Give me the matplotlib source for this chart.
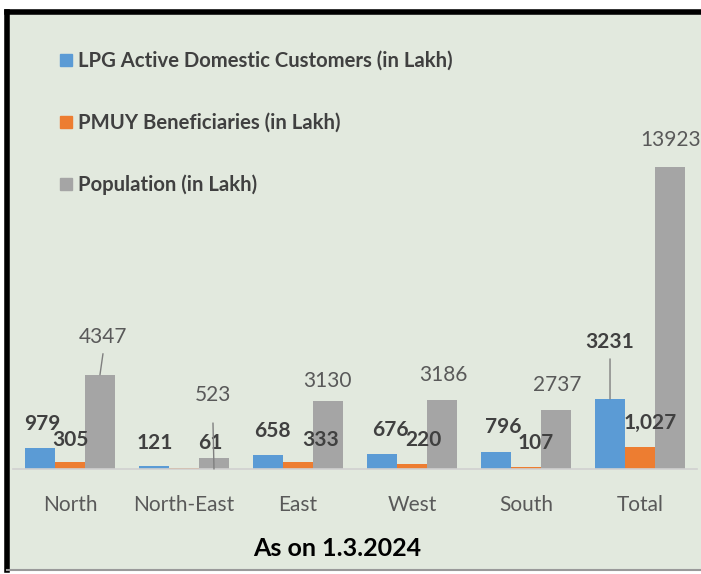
import matplotlib.pyplot as plt
from matplotlib.lines import Line2D
import numpy as np

regions = ["North", "North-East", "East", "West", "South", "Total"]
lpg_customers = [979, 121, 658, 676, 796, 3231]
pmuy_beneficiaries = [305, 61, 333, 220, 107, 1027]
population = [4347, 523, 3130, 3186, 2737, 13923]

lpg_text = ["979", "121", "658", "676", "796", "3231"]
pmuy_text = ["305", "61", "333", "220", "107", "1,027"]
pop_text = ["4347", "523", "3130", "3186", "2737", "13923"]

series_names = [
    "LPG Active Domestic Customers (in Lakh)",
    "PMUY Beneficiaries (in Lakh)",
    "Population (in Lakh)",
]
colors = ["#5b9bd5", "#ed7d31", "#a5a5a5"]

# label offsets from bar top (pixels, dx right / dy up)
lpg_off = [(2, 24), (1, 23), (4, 24), (8, 24), (7, 25), (0, 57)]
pmuy_off = [(0, 22), (26, 25), (23, 22), (11, 24), (10, 24), (10, 24)]
pop_off = [(3, 38), (-1, 63), (-1, 20), (1, 25), (1, 25), (1, 27)]

plt.rcParams["font.family"] = ["Lato", "DejaVu Sans"]

bg = "#e2e9de"
fig = plt.figure(figsize=(7.01, 5.74), dpi=100)
fig.patch.set_facecolor("white")

# background panel with frame
panel = fig.add_axes([7 / 701, 4 / 574, 700 / 701, 558 / 574])
panel.set_facecolor(bg)
panel.set_xticks([])
panel.set_yticks([])
panel.spines["right"].set_visible(False)
panel.spines["top"].set_linewidth(4)
panel.spines["left"].set_linewidth(4)
panel.spines["bottom"].set_color("#9a9a9a")
panel.spines["bottom"].set_linewidth(1.5)

ax = fig.add_axes([13 / 701, 105 / 574, 684 / 701, 449 / 574])
ax.set_facecolor("none")

x = np.arange(len(regions))
w = 0.263
bars_lpg = ax.bar(x - w, lpg_customers, w, color=colors[0])
bars_pmuy = ax.bar(x, pmuy_beneficiaries, w, color=colors[1])
bars_pop = ax.bar(x + w, population, w, color=colors[2])

ax.set_xlim(-0.5, 5.5)
ax.set_ylim(0, 20700)
ax.set_yticks([])
for s in ["top", "right", "left"]:
    ax.spines[s].set_visible(False)
ax.spines["bottom"].set_color("#d0d0d0")
ax.spines["bottom"].set_linewidth(1.2)
ax.set_xticks(x)
ax.set_xticklabels(regions, fontsize=15, color="#595959")
ax.tick_params(axis="x", length=0, pad=19)


def add_labels(bars, texts, offsets, bold, color):
    for b, t, off in zip(bars, texts, offsets):
        bx = b.get_x() + b.get_width() / 2
        ax.annotate(
            t, (bx, b.get_height()), xytext=(off[0] * 0.72, off[1] * 0.72),
            textcoords="offset points", ha="center", va="center",
            fontsize=15, fontweight="bold" if bold else "normal", color=color,
        )


def add_leader(bar, off, to_base=False):
    bx = bar.get_x() + bar.get_width() / 2
    end = 0 if to_base else bar.get_height()
    ax.annotate(
        "", (bx, end), xytext=(off[0] * 0.72, (off[1] - 17) * 0.72),
        textcoords="offset points",
        arrowprops=dict(arrowstyle="-", color="#7f7f7f", lw=1, shrinkA=0, shrinkB=0),
    )


add_labels(bars_lpg, lpg_text, lpg_off, True, "#404040")
add_labels(bars_pmuy, pmuy_text, pmuy_off, True, "#404040")
add_labels(bars_pop, pop_text, pop_off, False, "#595959")

# leader lines for labels pulled away from their bars
add_leader(bars_pop[0], pop_off[0])
add_leader(bars_pop[1], pop_off[1], to_base=True)
add_leader(bars_lpg[5], lpg_off[5])

handles = [Line2D([0], [0], marker="s", linestyle="none", markersize=8,
                  markerfacecolor=c, markeredgecolor=c) for c in colors]
fig.legend(handles, series_names, loc="upper left",
           bbox_to_anchor=(50 / 701, 1 - 41 / 574), frameon=False,
           prop={"size": 14.6, "weight": "bold"}, labelcolor="#404040",
           handlelength=0.6, handletextpad=0.3, labelspacing=2.05, borderpad=0)

fig.text(337 / 701, 1 - 548 / 574, "As on 1.3.2024", ha="center", va="center",
         fontsize=18, fontweight="bold", color="black")

fig.savefig("out.png", dpi=100)
